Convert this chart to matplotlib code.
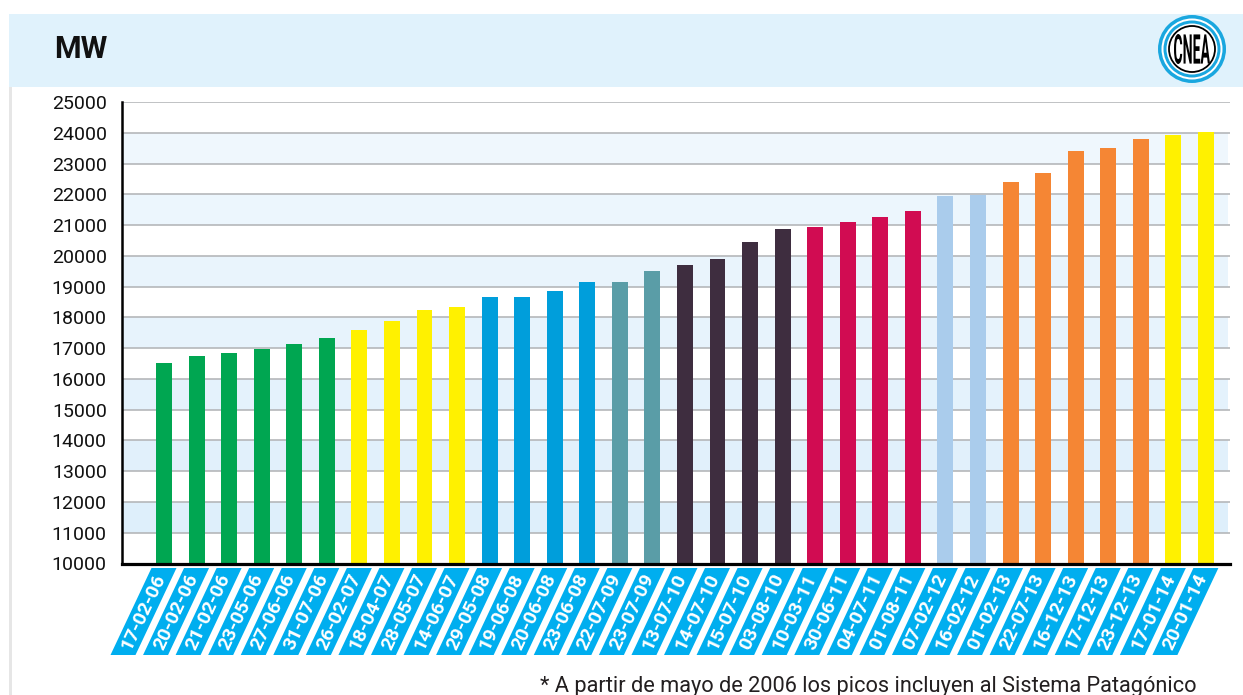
import numpy as np
import matplotlib.pyplot as plt
from matplotlib.patches import Polygon, Rectangle, Circle, PathPatch
from matplotlib.textpath import TextPath
from matplotlib.font_manager import FontProperties
from matplotlib.transforms import IdentityTransform, Affine2D

# Picos de demanda del SADI (MW) por fecha
fechas = ["17-02-06", "20-02-06", "21-02-06", "23-05-06", "27-06-06", "31-07-06",
          "26-02-07", "18-04-07", "28-05-07", "14-06-07",
          "29-05-08", "19-06-08", "20-06-08", "23-06-08",
          "22-07-09", "23-07-09",
          "13-07-10", "14-07-10", "15-07-10", "03-08-10",
          "10-03-11", "30-06-11", "04-07-11", "01-08-11",
          "07-02-12", "16-02-12",
          "01-02-13", "22-07-13", "16-12-13", "17-12-13", "23-12-13",
          "17-01-14", "20-01-14"]
picos = [16530, 16730, 16830, 16970, 17130, 17330,
         17590, 17870, 18230, 18330,
         18650, 18650, 18850, 19150,
         19150, 19510,
         19710, 19900, 20450, 20870,
         20930, 21100, 21260, 21460,
         21940, 21990,
         22390, 22680, 23420, 23490, 23790,
         23920, 24030]

# un color por año
paleta = ["#00A651", "#FFF100", "#009EDB", "#5A9DA7", "#3E2D3F",
          "#D10C52", "#AACCEC", "#F58634", "#FFF100"]
por_grupo = [6, 4, 4, 2, 4, 4, 2, 5, 2]
colores = [c for c, n in zip(paleta, por_grupo) for _ in range(n)]

W, H = 1243, 695
fig = plt.figure(figsize=(W / 100, H / 100), dpi=100)
pix = IdentityTransform()

def img(x, y):
    return x, H - y

# cabecera celeste y borde izquierdo
fig.add_artist(Rectangle(img(9, 87), W - 9, 73, transform=pix,
                         facecolor="#E0F2FC", edgecolor="none"))
fig.add_artist(Rectangle(img(9, H), 3, H - 87, transform=pix,
                         facecolor="#E6E6E6", edgecolor="none"))
fig.text(*img(54, 49), "MW", transform=pix, fontsize=22, fontweight="bold",
         family="Roboto", va="center", ha="left", color="#111111")

# logo CNEA
cx, cy = img(1192, 49)
for r, fc in [(34, "#1AA7DF"), (30.5, "white"), (28.5, "#1AA7DF"),
              (25.5, "white")]:
    fig.add_artist(Circle((cx, cy), r, transform=pix, facecolor=fc,
                          edgecolor="none"))
fig.add_artist(Circle((cx, cy), 23, transform=pix, facecolor="white",
                      edgecolor="black", lw=1.3))
tp = TextPath((0, 0), "CNEA", size=10,
              prop=FontProperties(family="Roboto", weight="bold"))
bb = tp.get_extents()
sx, sy = 36 / bb.width, 30 / bb.height
logo_tr = (Affine2D().translate(-bb.x0 - bb.width / 2, -bb.y0 - bb.height / 2)
           .scale(sx, sy).translate(cx, cy))
fig.add_artist(PathPatch(logo_tr.transform_path(tp), transform=pix,
                         facecolor="black", edgecolor="none"))

ax = fig.add_axes([122 / W, (H - 563.5) / H, (1230 - 122) / W, (563.5 - 102) / H])
ax.set_facecolor("white")
x = np.arange(len(picos))
ax.set_xlim(-1.29, 32.74)
ax.set_ylim(10000, 25000)

# franjas celestes alternadas
franjas = list(range(11000, 24000, 2000))
c_bajo = np.array([0xDE, 0xEF, 0xFB]) / 255
c_alto = np.array([0xEF, 0xF7, 0xFD]) / 255
for k, v in enumerate(franjas):
    t = k / (len(franjas) - 1)
    ax.axhspan(v, v + 1000, xmax=0.998, color=c_bajo * (1 - t) + c_alto * t,
               zorder=0, lw=0)

ax.bar(x, picos, width=0.49, color=colores, zorder=3)

ax.set_yticks(range(10000, 25001, 1000))
ax.set_yticklabels([str(v) for v in range(10000, 25001, 1000)],
                   family="Roboto", fontsize=14, color="#111111")
ax.tick_params(axis="y", length=0, pad=11)
ax.set_xticks([])
ax.yaxis.grid(True, color="#B5B7BA", lw=1.2, zorder=1)
ax.set_axisbelow(True)
for s in ["top", "right"]:
    ax.spines[s].set_visible(False)
ax.spines["left"].set_linewidth(1.8)
ax.spines["bottom"].set_linewidth(2.3)
ax.spines["bottom"].set_zorder(4)

# etiquetas de fecha en paralelogramos
y_sup, y_inf = img(0, 568)[1], img(0, 655)[1]
corr = 41
ang = np.degrees(np.arctan2(y_sup - y_inf, corr))
for i, f in enumerate(fechas):
    xc = ax.transData.transform((x[i], 10000))[0]
    pts = [(xc - 12.5, y_sup), (xc + 12.5, y_sup),
           (xc + 12.5 - corr, y_inf), (xc - 12.5 - corr, y_inf)]
    fig.add_artist(Polygon(pts, transform=pix, facecolor="#00AEEF",
                           edgecolor="none"))
    fig.text(xc - corr / 2, (y_sup + y_inf) / 2, f, transform=pix,
             rotation=ang, rotation_mode="anchor", ha="center", va="center",
             color="white", fontsize=14, fontweight="bold", family="Roboto")

fig.text(*img(1197, 692), "* A partir de mayo de 2006 los picos incluyen al Sistema Patagónico",
         transform=pix, ha="right", va="baseline", family="Roboto",
         fontsize=15.7, color="#231F20")

fig.savefig("out.png", dpi=100)
